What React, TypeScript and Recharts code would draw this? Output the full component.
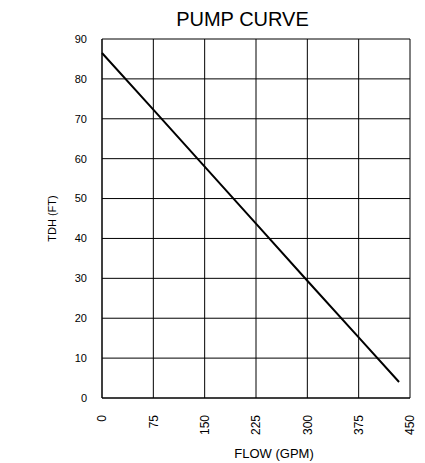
import { LineChart, Line, XAxis, YAxis, CartesianGrid, Label } from "recharts"

const flow = [0, 75, 150, 225, 300, 375, 434]
const tdh = [86.5, 72.3, 58.0, 43.7, 29.4, 15.2, 4.0]
const xTicks = [0, 75, 150, 225, 300, 375, 450]
const yTicks = [0, 10, 20, 30, 40, 50, 60, 70, 80, 90]

const data = flow.map((f, i) => ({ flow: f, tdh: tdh[i] }))

const font = "'Liberation Sans', Arial, sans-serif"

function FlowTick(props: any) {
  const { x, y, payload } = props
  return (
    <text
      x={x}
      y={y + 9}
      transform={`rotate(-90, ${x}, ${y + 9})`}
      textAnchor="end"
      dy="0.36em"
      fontSize={12}
      fontFamily={font}
      fill="#000"
    >
      {payload.value}
    </text>
  )
}

export default function App() {
  return (
    <div style={{ position: "absolute", left: 0, top: 0, width: 425, height: 463, background: "#fff" }}>
      <div
        style={{
          position: "absolute",
          top: 8,
          left: 0,
          width: 485,
          textAlign: "center",
          fontFamily: font,
          fontSize: 20,
          lineHeight: "23px",
          color: "#000",
        }}
      >
        PUMP CURVE
      </div>
      <LineChart
        width={425}
        height={463}
        data={data}
        margin={{ top: 39, right: 15, bottom: 25, left: 0 }}
      >
        <CartesianGrid stroke="#000" strokeWidth={1} />
        <XAxis
          dataKey="flow"
          type="number"
          domain={[0, 450]}
          ticks={xTicks}
          interval={0}
          tick={<FlowTick />}
          tickLine={false}
          axisLine={{ stroke: "#000" }}
          height={40}
        >
          <Label
            value="FLOW (GPM)"
            position="insideBottom"
            offset={-20}
            dx={18}
            fontSize={13}
            fontFamily={font}
            fill="#000"
          />
        </XAxis>
        <YAxis
          type="number"
          domain={[0, 90]}
          ticks={yTicks}
          interval={0}
          tickLine={false}
          axisLine={{ stroke: "#000" }}
          width={102}
          tickMargin={9}
          tick={{ fontSize: 11, fontFamily: font, fill: "#000" }}
        >
          <Label
            value="TDH (FT)"
            angle={-90}
            position="insideLeft"
            offset={52}
            fontSize={11}
            fontFamily={font}
            fill="#000"
            style={{ textAnchor: "middle" }}
          />
        </YAxis>
        <Line
          type="linear"
          dataKey="tdh"
          stroke="#000"
          strokeWidth={2}
          dot={false}
          isAnimationActive={false}
        />
      </LineChart>
    </div>
  )
}
